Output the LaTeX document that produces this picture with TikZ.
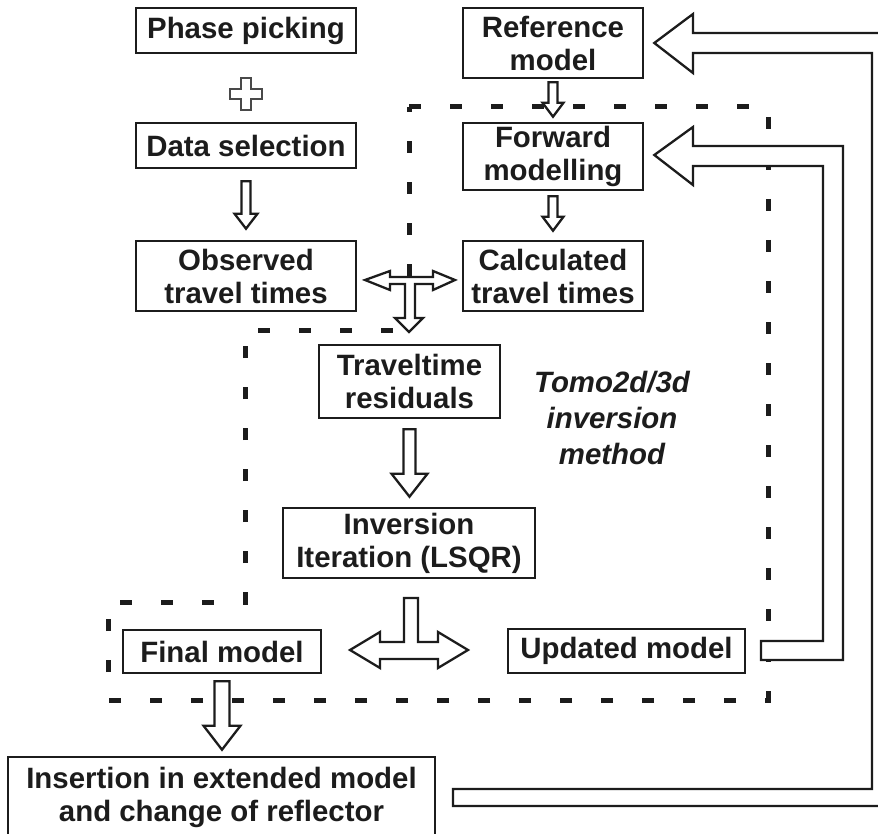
\documentclass[tikz,border=0pt]{standalone}
\usepackage{fontspec}
\setmainfont{Liberation Sans}
\usetikzlibrary{calc}
\definecolor{ink}{HTML}{1C1C1C}
\tikzset{
  box/.style={draw=ink, line width=2.6pt, text=ink, align=center, inner sep=0pt,
    font=\fontsize{29.4}{33}\selectfont\bfseries},
  blockarrow/.style={draw=ink, line width=2.3pt, fill=white, line join=miter},
  zone/.style={draw=ink, line width=5pt, dash pattern=on 12pt off 29pt},
  zonelabel/.style={text=ink, align=center, inner sep=0pt,
    font=\fontsize{29.4}{36}\selectfont\bfseries\itshape},
}
% hollow block arrow pointing down from #1 to #2
% #3 shaft half width, #4 head half width, #5 head length
\newcommand\downblock[5]{%
  \draw[blockarrow] let \p1=#1, \p2=#2 in
    (\x1-#3,\y1) -- (\x1+#3,\y1) -- (\x1+#3,\y2+#5) -- (\x1+#4,\y2+#5)
    -- (\x1,\y2) -- (\x1-#4,\y2+#5) -- (\x1-#3,\y2+#5) -- cycle;}

\begin{document}
\begin{tikzpicture}[x=1pt,y=-1pt]
\useasboundingbox (0,0) rectangle (878,834);
\clip (0,0) rectangle (878,834);
\fill[white] (0,0) rectangle (878,834);

% dashed outline of the inversion loop
\draw[zone] (409,107) -- (768,107) -- (768,700) -- (108,700) -- (108,602)
  -- (245,602) -- (245,330) -- (409,330) -- cycle;

% boxes
\node[box, minimum width=220, minimum height=45] (phase) at (246,30.5) {Phase picking};
\node[box, minimum width=220, minimum height=45] (data)  at (246,145.5) {Data selection};
\node[box, minimum width=220, minimum height=70] (obs)   at (246,276) {Observed\\travel times};
\node[box, minimum width=180, minimum height=70] (ref)   at (553,43) {Reference\\model};
\node[box, minimum width=180, minimum height=67] (fwd)   at (553,156.5) {Forward\\modelling};
\node[box, minimum width=180, minimum height=70] (calc)  at (553,276) {Calculated\\travel times};
\node[box, minimum width=181, minimum height=73] (resid) at (409.5,381.5) {Traveltime\\residuals};
\node[box, minimum width=252, minimum height=70] (inv)   at (409,543) {Inversion\\Iteration (LSQR)};
\node[box, minimum width=198, minimum height=43] (final) at (222,651.5) {Final model};
\node[box, minimum width=237, minimum height=44] (upd)   at (626.5,651) {Updated model};
\node[box, minimum width=427, minimum height=81] (ins)   at (221.5,797.5) {Insertion in extended model\\and change of reflector};

\node[zonelabel] (tomo) at (612,418) {Tomo2d/3d\\inversion\\method};

% plus sign between the first two steps
\draw[draw=ink!80, line width=1.8pt, fill=white]
  (241,78) -- (251,78) -- (251,89) -- (262,89) -- (262,99) -- (251,99)
  -- (251,110) -- (241,110) -- (241,99) -- (230,99) -- (230,89) -- (241,89) -- cycle;

% straight down arrows
\downblock{($(data.south)+(0,12)$)}{($(obs.north)+(0,-11)$)}{4.5pt}{11.5pt}{15pt}
\downblock{($(ref.south)+(0,3)$)}{($(fwd.north)+(0,-5)$)}{4.5pt}{10.5pt}{14pt}
\downblock{($(fwd.south)+(0,5)$)}{($(calc.north)+(0,-9)$)}{4.5pt}{10.5pt}{14pt}
\downblock{($(resid.south)+(0,10)$)}{($(inv.north)+(0,-10)$)}{6pt}{18pt}{23pt}
\downblock{($(final.south)+(0,7)$)}{($(ins.north)+(0,-6)$)}{7.5pt}{18.5pt}{24pt}

% comparison of observed and calculated times, feeding the residuals
\draw[blockarrow] (365,280) -- (390,271) -- (390,277) -- (433,277) -- (433,271)
  -- (455,280) -- (433,290) -- (433,284) -- (415,284) -- (415,318) -- (423,318)
  -- (409,332) -- (395,318) -- (405,318) -- (405,284) -- (390,284) -- (390,290) -- cycle;

% inversion output split to final and updated model
\draw[blockarrow] (350,650) -- (380,632) -- (380,642) -- (404,642) -- (404,598)
  -- (418,598) -- (418,642) -- (438,642) -- (438,632) -- (468,650) -- (438,668)
  -- (438,659) -- (380,659) -- (380,668) -- cycle;

% feedback from updated model to forward modelling
\draw[blockarrow] ($(fwd.east)+(10,-1.5)$) -- (693,127) -- (693,146) -- (843,146)
  -- (843,660) -- (761,660) -- (761,641) -- (823,641) -- (823,166) -- (693,166)
  -- (693,185) -- cycle;

% feedback from extended model to reference model
\draw[blockarrow] ($(ref.east)+(10,0)$) -- (693,14) -- (693,33) -- (890,33)
  -- (890,806) -- (453,806) -- (453,789) -- (872,789) -- (872,53) -- (693,53)
  -- (693,73) -- cycle;
\end{tikzpicture}
\end{document}
